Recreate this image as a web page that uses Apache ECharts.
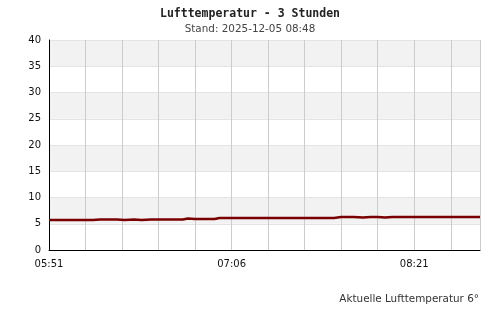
<!DOCTYPE html>
<html>
<head>
<meta charset="utf-8">
<script src="https://cdn.jsdelivr.net/npm/echarts@6/dist/echarts.min.js"></script>
<style>html,body{margin:0;padding:0;background:#fff}#c{width:500px;height:320px}</style>
</head>
<body>
<div id="c"></div>
<script>
var titleText = 'Lufttemperatur - 3 Stunden';
var subText = 'Stand: 2025-12-05 08:48';
var footerText = 'Aktuelle Lufttemperatur 6°';
var startTime = '05:51';
var endTime = '08:48';
var xLabelTimes = ['05:51', '07:06', '08:21'];
var yTicks = [0, 5, 10, 15, 20, 25, 30, 35, 40];
var times = ['05:51','06:09','06:12','06:19','06:22','06:26','06:29','06:33','06:46','06:48','06:51','06:59','07:01','07:48','07:51','07:56','08:00','08:03','08:06','08:09','08:12','08:48'];
var temps = [5.7, 5.7, 5.8, 5.8, 5.7, 5.8, 5.7, 5.8, 5.8, 6.0, 5.9, 5.9, 6.1, 6.1, 6.3, 6.3, 6.2, 6.3, 6.3, 6.2, 6.3, 6.3];

function toMin(t){var p=t.split(':');return (+p[0])*60+(+p[1]);}
var t0 = toMin(startTime);
function fmt(m){var a=t0+m;var h=Math.floor(a/60),mm=a%60;return (h<10?'0':'')+h+':'+(mm<10?'0':'')+mm;}
var labelOffsets = xLabelTimes.map(function(t){return toMin(t)-t0;});
var data = times.map(function(t,i){return [toMin(t)-t0, temps[i]];});

var chart = echarts.init(document.getElementById('c'), null, {renderer:'canvas'});
chart.setOption({
  animation:false,
  backgroundColor:'#fff',
  title:[
    {text:titleText,left:'center',top:3,textStyle:{fontFamily:'DejaVu Sans Mono',fontWeight:'bold',fontSize:11.5,color:'#222'}},
    {text:subText,left:'center',top:19,textStyle:{fontFamily:'DejaVu Sans',fontWeight:'normal',fontSize:10.4,color:'#444'}},
    {text:footerText,right:16,top:289,textStyle:{fontFamily:'DejaVu Sans',fontWeight:'normal',fontSize:10.4,color:'#333'}}
  ],
  grid:{left:49,right:20,top:40,bottom:70,containLabel:false},
  xAxis:{
    type:'value',min:0,max:toMin(endTime)-t0,interval:15,
    axisLine:{show:true,lineStyle:{color:'#000',width:1}},
    axisTick:{show:false},
    splitLine:{show:true,lineStyle:{color:'#cccccc',width:1}},
    axisLabel:{margin:9,fontFamily:'DejaVu Sans',fontSize:10,color:'#111',showMaxLabel:false,
      formatter:function(v){return labelOffsets.indexOf(v)>=0?fmt(v):'';}}
  },
  yAxis:{
    type:'value',min:yTicks[0],max:yTicks[yTicks.length-1],interval:yTicks[1]-yTicks[0],
    axisLine:{show:true,lineStyle:{color:'#000',width:1}},
    axisTick:{show:false},
    splitLine:{show:true,lineStyle:{color:'#e4e4e4',width:1}},
    splitArea:{show:true,areaStyle:{color:['#ffffff','#f2f2f2']}},
    axisLabel:{margin:8,fontFamily:'DejaVu Sans',fontSize:10,color:'#111'}
  },
  series:[{
    type:'line',data:data,showSymbol:false,symbol:'none',
    lineStyle:{color:'#7a0000',width:2.5},
    itemStyle:{color:'#7a0000'}
  }]
});
</script>
</body>
</html>
